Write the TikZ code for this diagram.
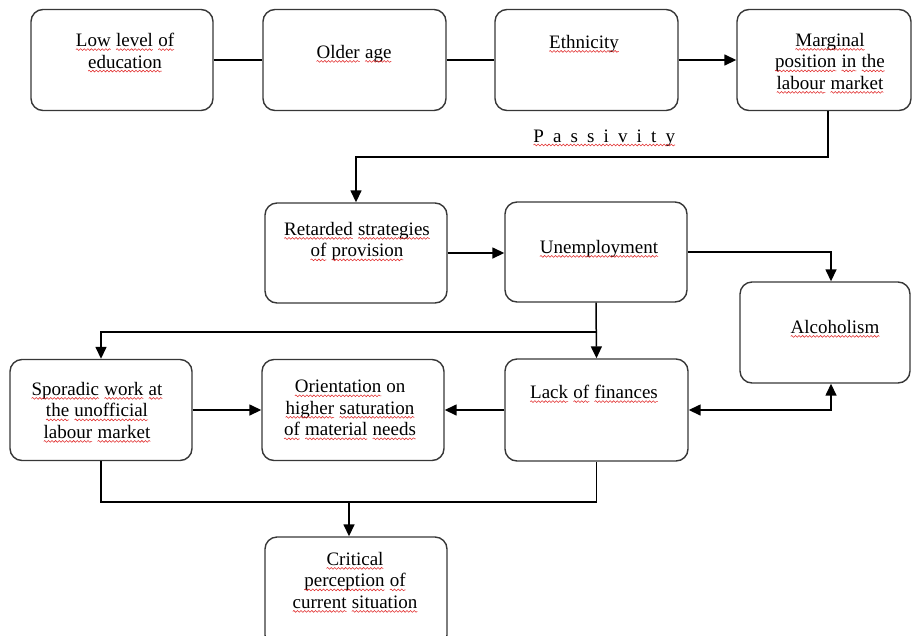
\documentclass[tikz,border=0pt]{standalone}
\usepackage{fontspec}
\setmainfont{Liberation Serif}
\usetikzlibrary{arrows.meta,decorations.pathmorphing}
\definecolor{wavered}{RGB}{225,45,45}
\definecolor{boxgray}{RGB}{55,55,55}
% red wavy underline for a single word
\newcommand\sq[1]{\tikz[x=1pt,y=1pt,baseline=(w.base)]{%
  \node[inner sep=0pt,outer sep=0pt,anchor=base] (w) {#1};%
  \draw[wavered,line width=0.55pt,decorate,
        decoration={snake,amplitude=0.9pt,segment length=3.6pt}]
    ([yshift=-3pt]w.base west) -- ([yshift=-3pt]w.base east);}}
\begin{document}
\begin{tikzpicture}[x=1pt,y=-1pt,
  box/.style={draw=boxgray, line width=1.4pt, rounded corners=12pt, inner sep=0pt,
              minimum width=182pt, minimum height=101pt},
  txt/.style={font=\fontsize{19}{21.5}\selectfont, align=center, inner sep=0pt, anchor=north},
  arw/.style={line width=1.5pt, -{Triangle[length=12pt,width=11pt]}},
  arwboth/.style={line width=1.5pt, {Triangle[length=12pt,width=11pt]}-{Triangle[length=12pt,width=11pt]}},
  ln/.style={line width=1.5pt}]
\useasboundingbox (0,0) rectangle (912,635);
\clip (0,0) rectangle (912,635);

% boxes
\node[box] (low)    at (122,60)  {};
\node[box, minimum width=183pt] (older)  at (354.5,60) {};
\node[box, minimum width=183pt] (ethn)   at (586.5,60) {};
\node[box, minimum width=174pt] (marg)   at (824,60)   {};
\node[box, minimum height=100pt] (retard) at (356,253)    {};
\node[box, minimum height=100pt] (unemp)  at (596,252)  {};
\node[box, minimum width=170pt]  (alco)   at (825,332.5)  {};
\node[box, minimum width=183pt, minimum height=102pt] (lack) at (596.5,410) {};
\node[box] (spor)   at (101,410) {};
\node[box] (orient) at (353,410) {};
\node[box, minimum height=110pt] (crit) at (356,592) {};

% texts
\node[txt] (lowt)   at (125,33)  {\sq{Low} \sq{level} \sq{of}\\\sq{education}};
\node[txt] (oldert) at (354,45)  {\sq{Older} \sq{age}};
\node[txt] (ethnt)  at (584,35)  {\sq{Ethnicity}};
\node[txt] (margt)  at (830,33)  {\sq{Marginal}\\\sq{position} \sq{in} \sq{the}\\\sq{labour} \sq{market}};
\node[txt] (rett)   at (357,222) {\sq{Retarded} \sq{strategies}\\\sq{of} \sq{provision}};
\node[txt] (unemt)  at (599,240) {\sq{Unemployment}};
\node[txt] (alcot)  at (835,320) {\sq{Alcoholism}};
\node[txt] (lackt)  at (594,385) {\sq{Lack} \sq{of} \sq{finances}};
\node[txt] (sport)  at (97,382)  {\sq{Sporadic} \sq{work} \sq{at}\\\sq{the} \sq{unofficial}\\\sq{labour} \sq{market}};
\node[txt] (orit)   at (350,380) {\sq{Orientation} on\\\sq{higher} \sq{saturation}\\\sq{of} \sq{material} \sq{needs}};
\node[txt] (critt)  at (355,552) {\sq{Critical}\\\sq{perception} \sq{of}\\\sq{current} \sq{situation}};
\node[font=\fontsize{19}{21.5}\selectfont\addfontfeature{LetterSpace=48}, inner sep=0pt, anchor=base west]
  (pass) at (533,142) {\sq{Passivity}};

% routing points
\coordinate (p1) at (828,157);
\coordinate (ax) at (831,0);
\coordinate (b1) at (597,332);
\coordinate (m1) at (349,502);

% connectors
\draw[ln]  (low) -- (older);
\draw[ln]  (older) -- (ethn);
\draw[arw] (ethn) -- (marg);
\draw[arw] (marg.south -| p1) -- (p1) -| (retard.north);
\draw[arw] (retard.east) -- (unemp.west |- retard.east);
\draw[arw] (unemp.east) -| (ax |- alco.north);
\draw[arw] (unemp.south) -- (lack.north);
\draw[arw] (b1) -| (spor.north);
\draw[arwboth] (lack.east) -| (ax |- alco.south);
\draw[arw] (spor.east) -- (orient.west);
\draw[arw] (lack.west) -- (orient.east |- lack.west);
\draw[ln]  (spor.south) |- (lack.south |- m1) -- (lack.south);
\draw[arw] (m1) -- (m1 |- crit.north);
\end{tikzpicture}
\end{document}
